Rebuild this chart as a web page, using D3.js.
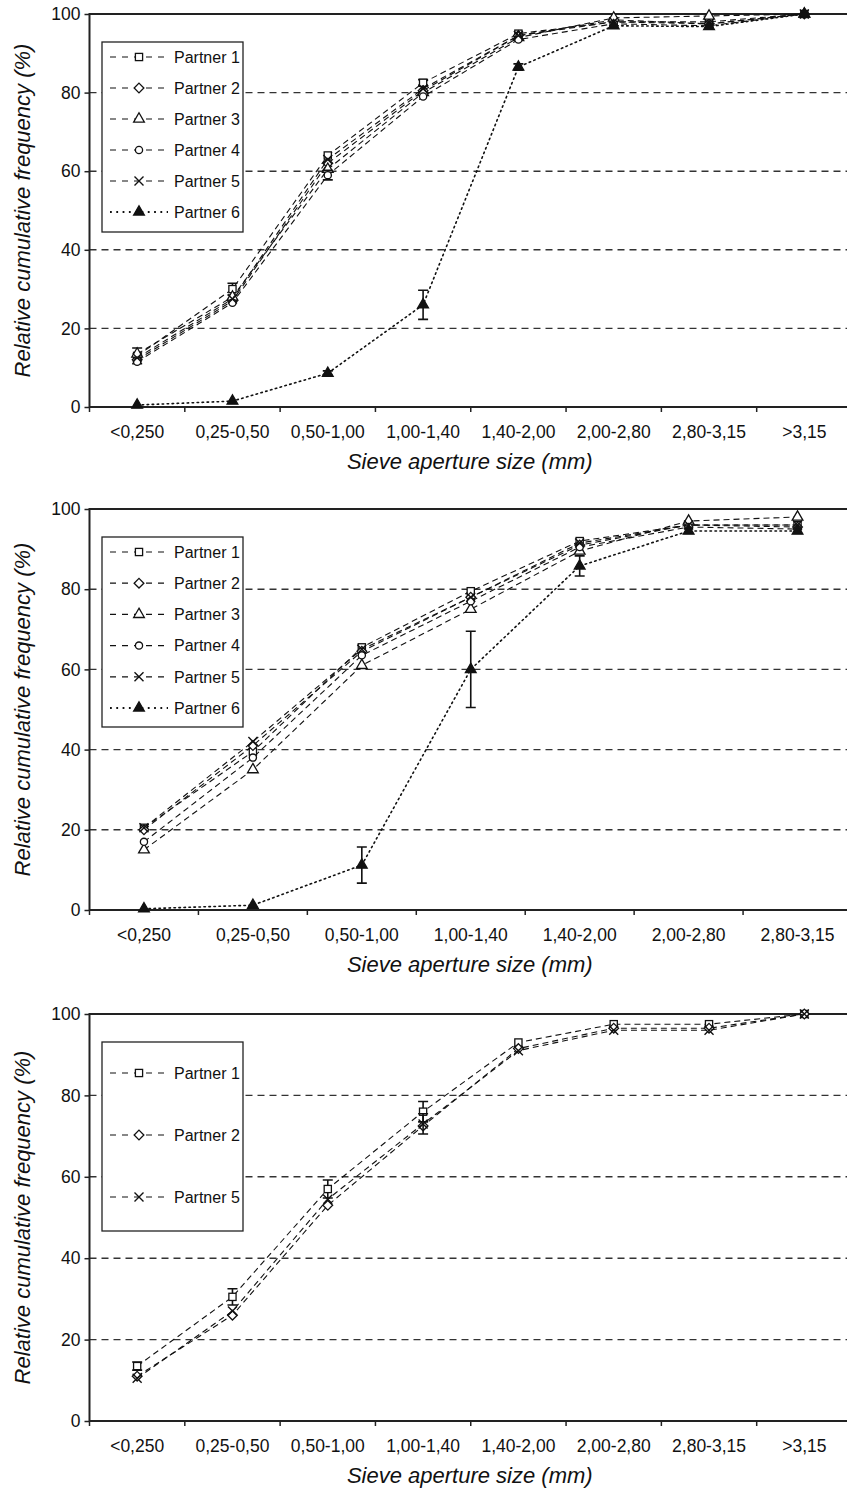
<!DOCTYPE html>
<html>
<head>
<meta charset="utf-8">
<script src="https://cdn.jsdelivr.net/npm/d3@7"></script>
<style>
  body { margin: 0; background: #fff; }
  svg { font-family: "Liberation Sans", Arial, sans-serif; }
</style>
</head>
<body>
<div id="chart"></div>
<script>
// categories
const cats8 = ["<0,250", "0,25-0,50", "0,50-1,00", "1,00-1,40", "1,40-2,00", "2,00-2,80", "2,80-3,15", ">3,15"];
const cats7 = ["<0,250", "0,25-0,50", "0,50-1,00", "1,00-1,40", "1,40-2,00", "2,00-2,80", "2,80-3,15"];
const yTicks = [0, 20, 40, 60, 80, 100];

// panel A (top)
const a1 = [13, 30, 64, 82.5, 95, 98, 98, 100];
const a2 = [12, 27, 62, 80.5, 94.5, 98.5, 97.5, 100];
const a3 = [13.5, 28, 60.5, 80, 94, 99, 99.5, 100];
const a4 = [11.5, 26.5, 59, 79, 93.5, 97.5, 97, 100];
const a5 = [12.5, 27.5, 63, 81, 94.5, 98, 97.5, 100];
const a6 = [0.5, 1.5, 8.6, 26, 86.5, 97, 96.8, 100];
const errA1 = [2, 1.5, 0, 0.8, 0, 0, 0, 0];
const errA4 = [0, 0, 1.2, 0, 0, 0, 0, 0];
const errA6 = [0, 0, 0.6, 3.7, 0.8, 0, 0, 0];

// panel B (middle)
const b1 = [20.5, 39.5, 65.5, 79.5, 92, 96, 96];
const b2 = [20, 41, 64.5, 78, 91, 96, 95.5];
const b3 = [15, 35, 61, 75, 89.5, 97, 98];
const b4 = [17, 38, 63.5, 77, 90.5, 95.5, 95];
const b5 = [20.5, 42, 65, 78, 91.5, 96, 96];
const b6 = [0.3, 1.2, 11.2, 60, 85.8, 94.5, 94.5];
const errB6 = [0, 0, 4.5, 9.5, 2.5, 0, 0];

// panel C (bottom)
const c1 = [13.5, 30.5, 57, 76, 93, 97.5, 97.5, 100];
const c2 = [11, 26, 53, 72.5, 91.5, 96.5, 96.5, 100];
const c5 = [10.5, 27, 54.5, 73, 91, 96, 96, 100];
const errC1 = [1, 2, 2.2, 2.5, 0, 0, 0, 0];
const errC5 = [0, 0, 0, 2.5, 0, 0, 0, 0];

const W = 847, H = 1489;
const svg = d3.select("#chart").append("svg").attr("width", W).attr("height", H);

const dashed = "6,4";
const dotted = "1.5,3.5";

function marker(g, type, x, y) {
  const s = 3.6;
  if (type === "square") {
    g.append("rect").attr("x", x - s).attr("y", y - s).attr("width", 2 * s).attr("height", 2 * s)
      .attr("fill", "#fff").attr("stroke", "#111").attr("stroke-width", 1.3);
  } else if (type === "diamond") {
    g.append("path").attr("d", d3.symbol(d3.symbolDiamond2, 60)())
      .attr("transform", `translate(${x},${y})`)
      .attr("fill", "#fff").attr("stroke", "#111").attr("stroke-width", 1.3);
  } else if (type === "triangle" || type === "triFill") {
    g.append("path").attr("d", d3.symbol(d3.symbolTriangle, 50)())
      .attr("transform", `translate(${x},${y})`)
      .attr("fill", type === "triFill" ? "#111" : "#fff").attr("stroke", "#111").attr("stroke-width", 1.3);
  } else if (type === "circle") {
    g.append("circle").attr("cx", x).attr("cy", y).attr("r", s)
      .attr("fill", "#fff").attr("stroke", "#111").attr("stroke-width", 1.3);
  } else if (type === "cross") {
    g.append("path").attr("d", `M${x - 4.5},${y - 4.5}L${x + 4.5},${y + 4.5}M${x - 4.5},${y + 4.5}L${x + 4.5},${y - 4.5}`)
      .attr("stroke", "#111").attr("stroke-width", 1.4);
  }
}

function drawPanel(top, bottom, cats, series, legendRowGap) {
  const left = 89.5, right = 852;
  const x = d3.scaleBand().domain(cats).range([left, right]);
  const y = d3.scaleLinear().domain([0, 100]).range([bottom, top]);
  const g = svg.append("g");

  // grid
  g.selectAll(".grid").data([20, 40, 60, 80]).enter().append("line")
    .attr("x1", left).attr("x2", right)
    .attr("y1", d => y(d)).attr("y2", d => y(d))
    .attr("stroke", "#333").attr("stroke-width", 1.4).attr("stroke-dasharray", "7,5");

  // frame
  g.append("rect").attr("x", left).attr("y", top).attr("width", right - left).attr("height", bottom - top)
    .attr("fill", "none").attr("stroke", "#222").attr("stroke-width", 2);

  // y axis
  const yAxis = g.append("g").attr("transform", `translate(${left},0)`)
    .call(d3.axisLeft(y).tickValues(yTicks).tickSize(5).tickSizeOuter(0));
  yAxis.select(".domain").remove();
  yAxis.selectAll("line").attr("stroke", "#222").attr("stroke-width", 1.5);
  yAxis.selectAll("text").attr("font-size", 17.5).attr("fill", "#111").attr("x", -9);

  // x axis: ticks on band edges
  const xAxis = g.append("g").attr("transform", `translate(0,${bottom})`)
    .call(d3.axisBottom(x).tickSize(0).tickSizeOuter(0));
  xAxis.select(".domain").remove();
  xAxis.selectAll("text").attr("font-size", 17.5).attr("fill", "#111").attr("y", 31).attr("dy", 0);
  g.selectAll(".xt").data(cats).enter().append("line")
    .attr("x1", d => x(d)).attr("x2", d => x(d))
    .attr("y1", bottom).attr("y2", bottom + 5)
    .attr("stroke", "#222").attr("stroke-width", 1.5);

  // titles
  g.append("text").attr("x", (left + right) / 2 - 1).attr("y", bottom + 62)
    .attr("text-anchor", "middle").attr("font-size", 22).attr("font-style", "italic").attr("fill", "#111")
    .text("Sieve aperture size (mm)");
  g.append("text").attr("transform", `translate(30,${(top + bottom) / 2}) rotate(-90)`)
    .attr("text-anchor", "middle").attr("font-size", 22).attr("font-style", "italic").attr("fill", "#111")
    .text("Relative cumulative frequency (%)");

  // series
  series.forEach(s => {
    const pts = s.values.map((v, i) => [x(cats[i]) + x.bandwidth() / 2, y(v)]);
    g.append("path").attr("d", d3.line()(pts))
      .attr("fill", "none").attr("stroke", "#111").attr("stroke-width", s.dot ? 1.6 : 1.1)
      .attr("stroke-dasharray", s.dot ? dotted : dashed)
      .attr("stroke-linecap", s.dot ? "round" : "butt");
    if (s.err) {
      s.err.forEach((e, i) => {
        if (!e) return;
        const cx = pts[i][0];
        const y0 = y(s.values[i] - e), y1 = y(s.values[i] + e);
        g.append("path").attr("d", `M${cx},${y0}V${y1}M${cx - 5},${y0}H${cx + 5}M${cx - 5},${y1}H${cx + 5}`)
          .attr("stroke", "#111").attr("stroke-width", 1.6).attr("fill", "none");
      });
    }
    pts.forEach(p => marker(g, s.marker, p[0], p[1]));
  });

  // legend
  const lx = 102, ly = top + 28;
  const lh = series.length === 3 ? 189 : 190;
  g.append("rect").attr("x", lx).attr("y", ly).attr("width", 141).attr("height", lh)
    .attr("fill", "#fff").attr("stroke", "#222").attr("stroke-width", 1.3);
  series.forEach((s, i) => {
    const ry = ly + 15 + legendRowGap * i + (series.length === 3 ? 16 : 0);
    g.append("line").attr("x1", 110).attr("x2", 168).attr("y1", ry).attr("y2", ry)
      .attr("stroke", "#111").attr("stroke-width", s.dot ? 1.8 : 1.2)
      .attr("stroke-dasharray", s.dot ? "1.8,4.5" : "6,6");
    marker(g, s.marker, 139, ry);
    g.append("text").attr("x", 174).attr("y", ry).attr("dy", "0.36em")
      .attr("font-size", 16).attr("fill", "#111").text(s.name);
  });
}

drawPanel(14, 407, cats8, [
  { name: "Partner 1", values: a1, marker: "square", err: errA1 },
  { name: "Partner 2", values: a2, marker: "diamond" },
  { name: "Partner 3", values: a3, marker: "triangle" },
  { name: "Partner 4", values: a4, marker: "circle", err: errA4 },
  { name: "Partner 5", values: a5, marker: "cross" },
  { name: "Partner 6", values: a6, marker: "triFill", err: errA6, dot: true }
], 31);

drawPanel(509, 910, cats7, [
  { name: "Partner 1", values: b1, marker: "square" },
  { name: "Partner 2", values: b2, marker: "diamond" },
  { name: "Partner 3", values: b3, marker: "triangle" },
  { name: "Partner 4", values: b4, marker: "circle" },
  { name: "Partner 5", values: b5, marker: "cross" },
  { name: "Partner 6", values: b6, marker: "triFill", err: errB6, dot: true }
], 31.2);

drawPanel(1014, 1421, cats8, [
  { name: "Partner 1", values: c1, marker: "square", err: errC1 },
  { name: "Partner 2", values: c2, marker: "diamond" },
  { name: "Partner 5", values: c5, marker: "cross", err: errC5 }
], 62);
</script>
</body>
</html>
